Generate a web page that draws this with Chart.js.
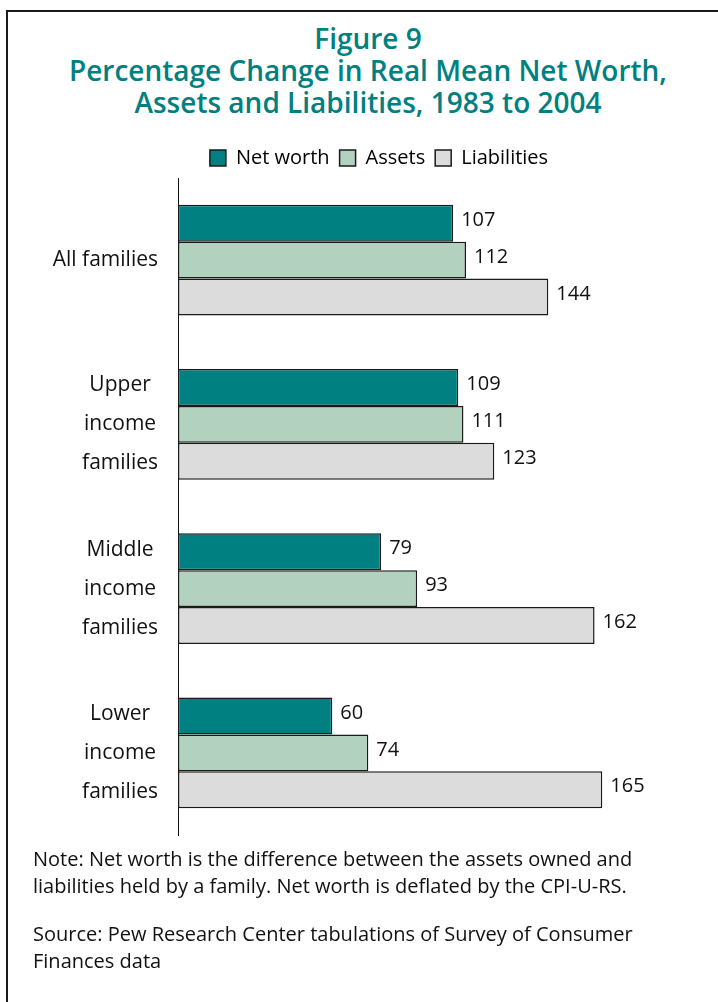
<!DOCTYPE html>
<html>
<head>
<meta charset="utf-8">
<script src="https://cdn.jsdelivr.net/npm/chart.js@4"></script>
<style>
  body { margin: 0; width: 718px; height: 1002px; overflow: hidden; background: #fff; font-family: "Open Sans", sans-serif; }
  #frame { position: absolute; left: 6px; top: 10px; width: 800px; height: 1100px; border: 2px solid #1a1a1a; }
  #title { position: absolute; left: 0; top: 22px; width: 736px; text-align: center; color: #008080; font-size: 28px; font-weight: 600; line-height: 32px; }
  #wrap { position: absolute; left: 0; top: 0; width: 718px; height: 850px; }
  #notes { position: absolute; left: 33px; top: 845px; font-size: 20px; line-height: 27px; color: #111; }
  #notes p { margin: 0 0 21px 0; }
</style>
</head>
<body>
<div id="frame"></div>
<div id="title">Figure 9<br>Percentage Change in Real Mean Net Worth,<br>Assets and Liabilities, 1983 to 2004</div>
<div id="wrap"><canvas id="chart"></canvas></div>
<div id="notes">
  <p>Note: Net worth is the difference between the assets owned and<br>liabilities held by a family. Net worth is deflated by the CPI-U-RS.</p>
  <p>Source: Pew Research Center tabulations of Survey of Consumer<br>Finances data</p>
</div>
<script>
// categories and series
const categories = ["All families", "Upper income families", "Middle income families", "Lower income families"];
const category_lines = [["All families"], ["Upper", "income", "families"], ["Middle", "income", "families"], ["Lower", "income", "families"]];
const net_worth = [107, 109, 79, 60];
const assets = [112, 111, 93, 74];
const liabilities = [144, 123, 162, 165];

const font_family = '"Open Sans", sans-serif';

// category labels, lines centred on each other, block right aligned
const category_labels = {
  id: "category_labels",
  afterDraw(chart) {
    const c = chart.ctx;
    const y_scale = chart.scales.y;
    c.save();
    c.font = "21px " + font_family;
    c.fillStyle = "#111";
    c.textAlign = "center";
    c.textBaseline = "middle";
    category_lines.forEach((lines, i) => {
      const y_mid = y_scale.getPixelForTick(i);
      const block_w = Math.max(...lines.map((l) => c.measureText(l).width));
      const cx = 158 - block_w / 2;
      const step = 39;
      lines.forEach((line, j) => {
        c.fillText(line, cx, y_mid + (j - (lines.length - 1) / 2) * step);
      });
    });
    c.restore();
  },
};

// numbers at bar ends
const value_labels = {
  id: "value_labels",
  afterDatasetsDraw(chart) {
    const c = chart.ctx;
    c.save();
    c.font = "20px " + font_family;
    c.fillStyle = "#111";
    c.textAlign = "left";
    c.textBaseline = "middle";
    chart.data.datasets.forEach((ds, di) => {
      chart.getDatasetMeta(di).data.forEach((bar, i) => {
        c.fillText(ds.data[i], bar.x + 8, bar.y - 3);
      });
    });
    c.restore();
  },
};

const ctx = document.getElementById("chart").getContext("2d");
const chart = new Chart(ctx, {
  type: "bar",
  data: {
    labels: categories,
    datasets: [
      { label: "Net worth", data: net_worth, backgroundColor: "#008080" },
      { label: "Assets", data: assets, backgroundColor: "#b3d1bf" },
      { label: "Liabilities", data: liabilities, backgroundColor: "#dcdcdc" },
    ],
  },
  options: {
    indexAxis: "y",
    responsive: true,
    maintainAspectRatio: false,
    animation: false,
    datasets: {
      bar: {
        borderColor: "#1a1a1a",
        borderWidth: 1.5,
        borderSkipped: false,
        barPercentage: 1,
        categoryPercentage: 0.674,
      },
    },
    layout: { padding: { top: 138, left: 40, right: 0, bottom: 15 } },
    plugins: {
      legend: {
        display: true,
        position: "top",
        labels: {
          boxWidth: 16,
          boxHeight: 16,
          padding: 10,
          color: "#111",
          font: { family: font_family, size: 20 },
          generateLabels(ch) {
            return ch.data.datasets.map((ds, i) => ({
              text: ds.label,
              fillStyle: ds.backgroundColor,
              strokeStyle: "#1a1a1a",
              lineWidth: 1.5,
              datasetIndex: i,
            }));
          },
        },
      },
      tooltip: { enabled: false },
    },
    scales: {
      x: { display: false, min: 0, max: 210 },
      y: {
        ticks: { display: false },
        grid: { display: false },
        border: { display: true, color: "#111", width: 1 },
        afterFit(scale) {
          scale.width = 138;
        },
      },
    },
  },
  plugins: [category_labels, value_labels],
});
</script>
</body>
</html>
